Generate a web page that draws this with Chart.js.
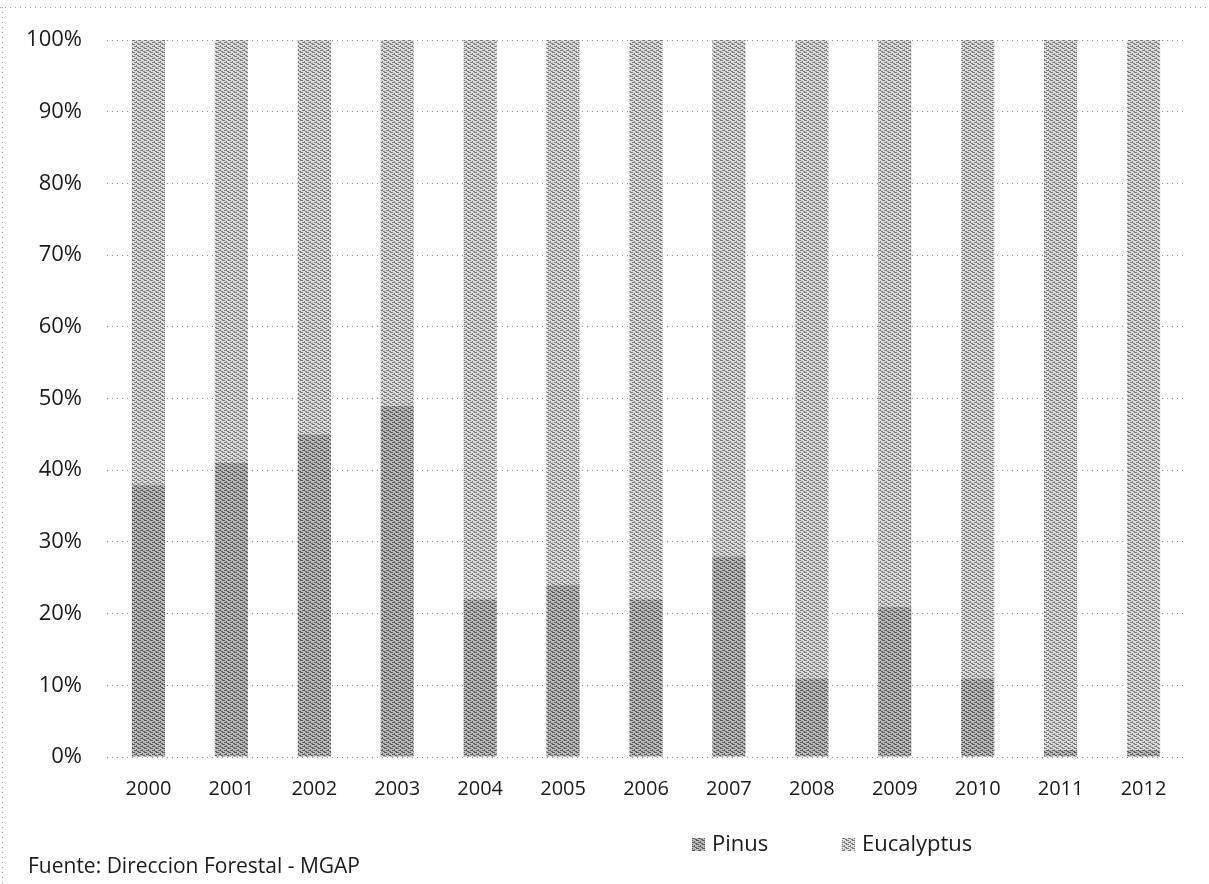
<!DOCTYPE html>
<html>
<head>
<meta charset="utf-8">
<script src="https://cdn.jsdelivr.net/npm/chart.js@4.4.1/dist/chart.umd.min.js"></script>
<style>
  html, body { margin: 0; padding: 0; background: #ffffff; }
  #wrap { position: relative; width: 1209px; height: 884px; }
</style>
</head>
<body>
<div id="wrap"><canvas id="chart" width="1209" height="884"></canvas></div>
<script>
// Share of planted area by genus (percent of yearly total)
const years = ['2000','2001','2002','2003','2004','2005','2006','2007','2008','2009','2010','2011','2012'];
const pinus = [38, 41, 45, 49, 22, 24, 22, 28, 11, 21, 11, 1, 1];
const eucalyptus = [62, 59, 55, 51, 78, 76, 78, 72, 89, 79, 89, 99, 99];
const yTicks = [0, 10, 20, 30, 40, 50, 60, 70, 80, 90, 100];
const sourceNote = 'Fuente: Direccion Forestal - MGAP';

const FONT = '"Open Sans", "Liberation Sans", sans-serif';

// Fine stippled fill resembling a printed grey tone
function stipple(base, ink) {
  const c = document.createElement('canvas');
  c.width = 6; c.height = 4;
  const g = c.getContext('2d');
  g.fillStyle = base; g.fillRect(0, 0, 6, 4);
  g.fillStyle = ink;
  g.fillRect(0, 0, 3, 1);
  g.fillRect(4, 1, 1, 1);
  g.fillRect(2, 2, 3, 1);
  g.fillRect(0, 3, 1, 1);
  g.fillRect(5, 3, 1, 1);
  return g.createPattern(c, 'repeat');
}

const fillPinus = stipple('#bdbdbd', '#5a5a5a');
const fillEuc = stipple('#dedede', '#7a7a7a');

// Legend and source line drawn under the plot
const bottomNotes = {
  id: 'bottomNotes',
  afterDraw(chart) {
    const ctx = chart.ctx;
    ctx.save();
    ctx.font = '22px ' + FONT;
    ctx.textBaseline = 'middle';
    ctx.fillStyle = '#1a1a1a';
    const items = [
      { x: 692, ds: chart.data.datasets[0] },
      { x: 842, ds: chart.data.datasets[1] }
    ];
    const yMid = 845;
    items.forEach(it => {
      ctx.fillStyle = it.ds.backgroundColor;
      ctx.fillRect(it.x, yMid - 7, 13, 13);
      ctx.fillStyle = '#1a1a1a';
      ctx.textAlign = 'left';
      ctx.fillText(it.ds.label, it.x + 20, yMid);
    });
    ctx.font = '21px ' + FONT;
    ctx.textBaseline = 'alphabetic';
    ctx.fillText(sourceNote, 28, 873);

    // dotted outer frame edges
    ctx.strokeStyle = '#9a9a9a';
    ctx.lineWidth = 1;
    ctx.setLineDash([1, 4]);
    ctx.beginPath();
    ctx.moveTo(0, 7.5); ctx.lineTo(1209, 7.5);
    ctx.moveTo(2.5, 7); ctx.lineTo(2.5, 884);
    ctx.stroke();
    ctx.restore();
  }
};

new Chart(document.getElementById('chart'), {
  type: 'bar',
  data: {
    labels: years,
    datasets: [
      { label: 'Pinus', data: pinus, backgroundColor: fillPinus, borderWidth: 0 },
      { label: 'Eucalyptus', data: eucalyptus, backgroundColor: fillEuc, borderWidth: 0 }
    ]
  },
  options: {
    responsive: false,
    animation: false,
    layout: { padding: { top: 40, right: 24, bottom: 0, left: 0 } },
    datasets: { bar: { categoryPercentage: 1, barPercentage: 0.4 } },
    plugins: {
      legend: { display: false },
      tooltip: { enabled: false }
    },
    scales: {
      x: {
        stacked: true,
        grid: { display: false, drawTicks: false },
        border: { display: false },
        ticks: { color: '#1a1a1a', font: { family: FONT, size: 20 }, padding: 20 },
        afterFit(s) { s.height = 127; }
      },
      y: {
        stacked: true,
        min: 0,
        max: 100,
        afterBuildTicks(s) { s.ticks = yTicks.map(v => ({ value: v })); },
        grid: { color: '#8a8a8a', lineWidth: 1, drawTicks: false },
        border: { display: false, dash: [1, 4] },
        ticks: {
          color: '#1a1a1a',
          font: { family: FONT, size: 22 },
          padding: 25,
          callback: v => v + '%'
        },
        afterFit(s) { s.width = 107; }
      }
    }
  },
  plugins: [bottomNotes]
});
</script>
</body>
</html>
